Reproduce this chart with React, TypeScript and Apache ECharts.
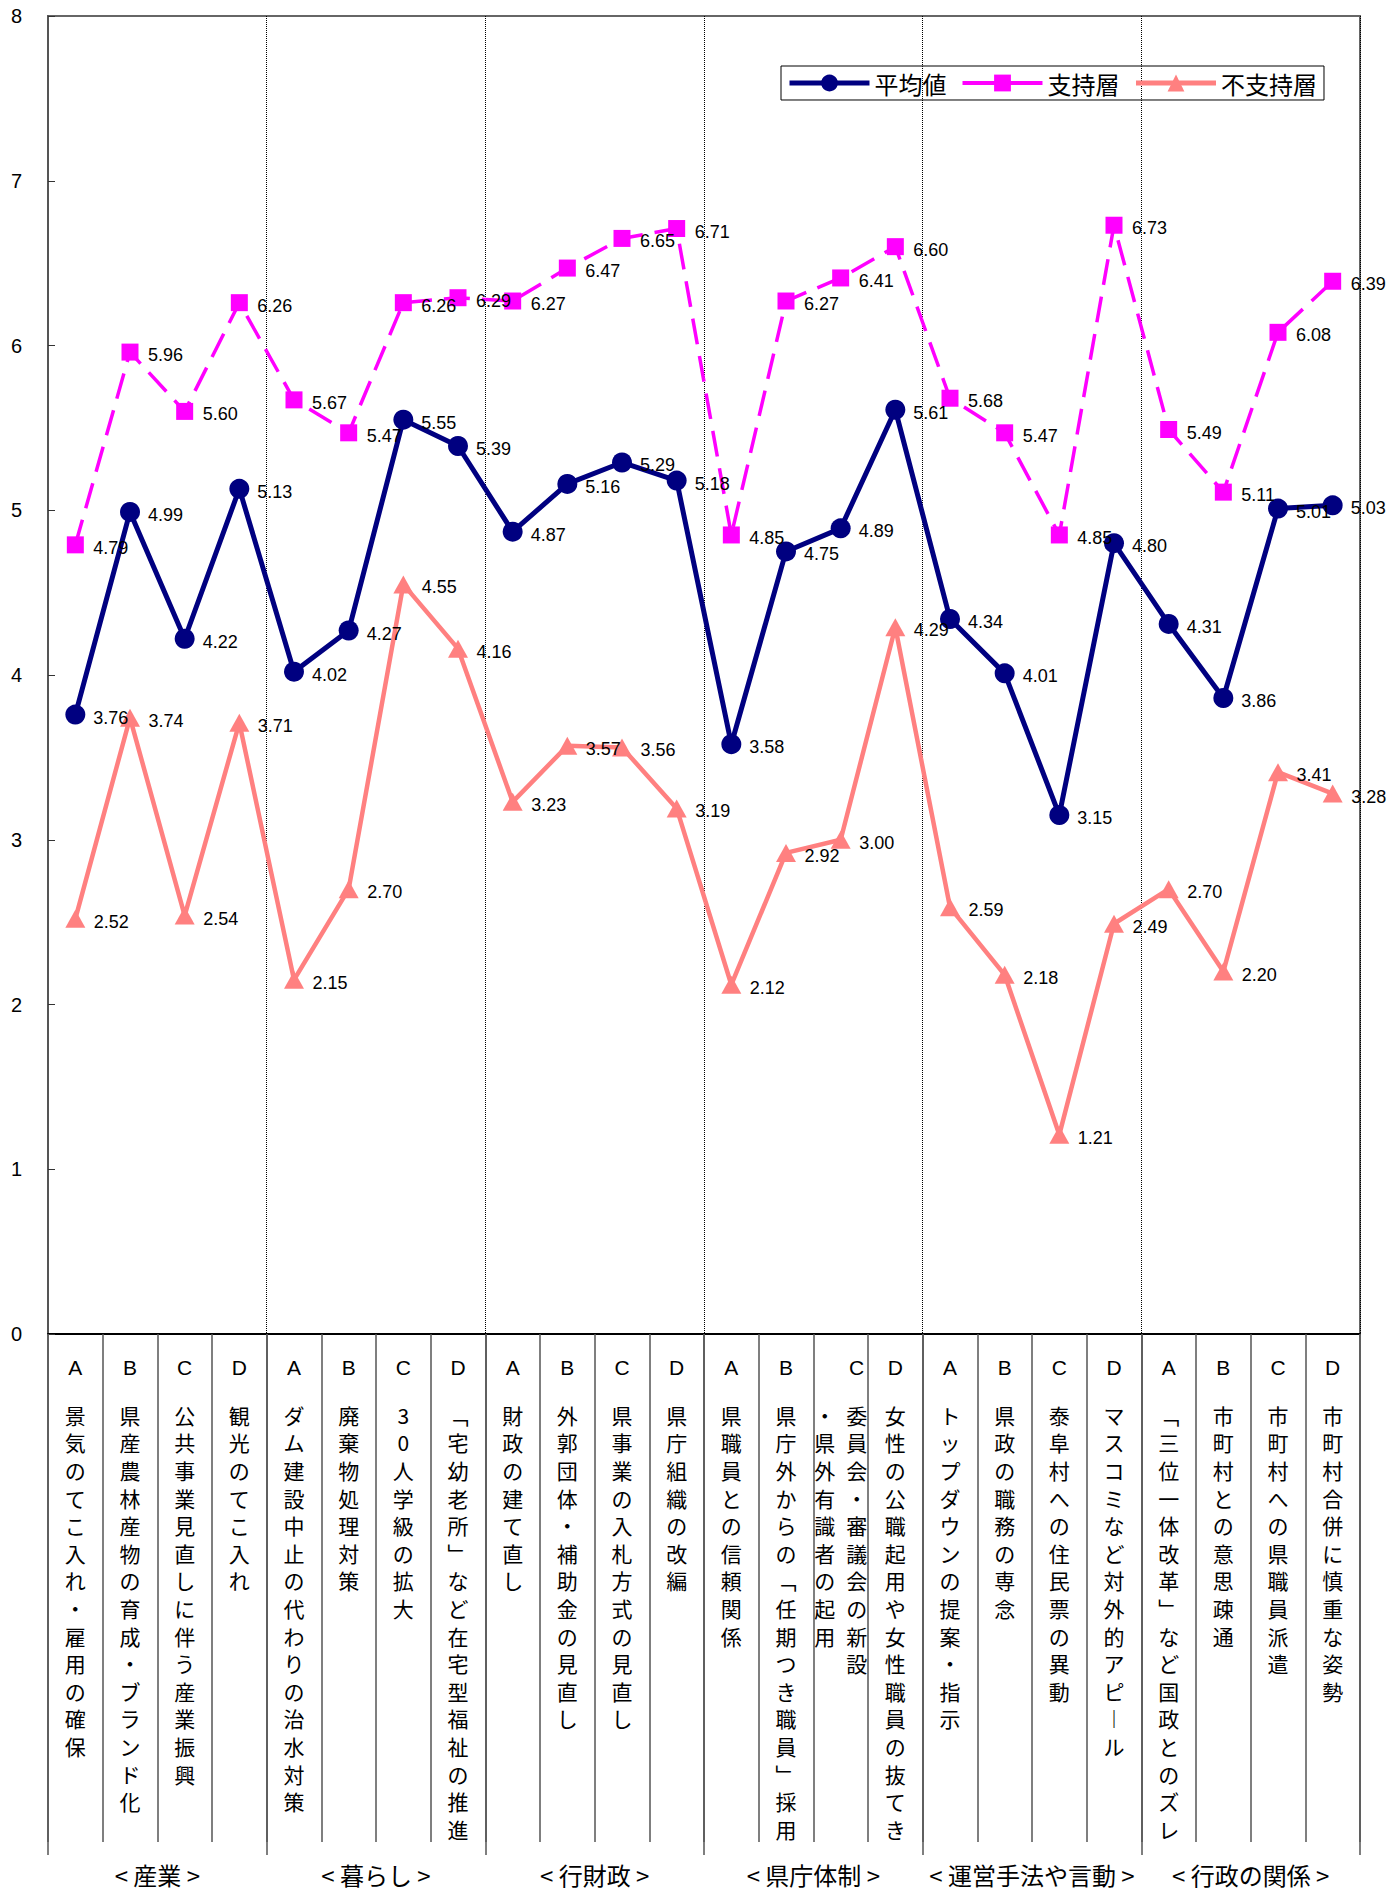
import React, { useEffect, useRef } from "react";
import * as echarts from "echarts";

const groups = ["< 産業 >", "< 暮らし >", "< 行財政 >", "< 県庁体制 >", "< 運営手法や言動 >", "< 行政の関係 >"];

const letters = [
  "A", "B", "C", "D", "A", "B", "C", "D", "A", "B", "C", "D",
  "A", "B", "C", "D", "A", "B", "C", "D", "A", "B", "C", "D",
];

const items = [
  "景気のてこ入れ・雇用の確保",
  "県産農林産物の育成・ブランド化",
  "公共事業見直しに伴う産業振興",
  "観光のてこ入れ",
  "ダム建設中止の代わりの治水対策",
  "廃棄物処理対策",
  "30人学級の拡大",
  "「宅幼老所」など在宅型福祉の推進",
  "財政の建て直し",
  "外郭団体・補助金の見直し",
  "県事業の入札方式の見直し",
  "県庁組織の改編",
  "県職員との信頼関係",
  "県庁外からの「任期つき職員」採用",
  "委員会・審議会の新設\n・県外有識者の起用",
  "女性の公職起用や女性職員の抜てき",
  "トップダウンの提案・指示",
  "県政の職務の専念",
  "泰阜村への住民票の異動",
  "マスコミなど対外的アピール",
  "「三位一体改革」など国政とのズレ",
  "市町村との意思疎通",
  "市町村への県職員派遣",
  "市町村合併に慎重な姿勢",
];

const average = [
  3.76, 4.99, 4.22, 5.13, 4.02, 4.27, 5.55, 5.39, 4.87, 5.16, 5.29, 5.18,
  3.58, 4.75, 4.89, 5.61, 4.34, 4.01, 3.15, 4.8, 4.31, 3.86, 5.01, 5.03,
];
const supporters = [
  4.79, 5.96, 5.6, 6.26, 5.67, 5.47, 6.26, 6.29, 6.27, 6.47, 6.65, 6.71,
  4.85, 6.27, 6.41, 6.6, 5.68, 5.47, 4.85, 6.73, 5.49, 5.11, 6.08, 6.39,
];
const nonSupporters = [
  2.52, 3.74, 2.54, 3.71, 2.15, 2.7, 4.55, 4.16, 3.23, 3.57, 3.56, 3.19,
  2.12, 2.92, 3.0, 4.29, 2.59, 2.18, 1.21, 2.49, 2.7, 2.2, 3.41, 3.28,
];

const seriesNames = ["平均値", "支持層", "不支持層"];
const seriesColors = ["#000080", "#FF00FF", "#FF8080"];
const yMin = 0;
const yMax = 8;
const yInterval = 1;

const VERT: Record<string, string> = { "「": "﹁", "」": "﹂", "ー": "︱" };
const LATIN = "'Liberation Sans', Arial, sans-serif";
const CJK = "'Noto Sans CJK JP', 'Noto Sans', sans-serif";

function buildLabel(idx: number): string {
  const letter = letters[idx];
  const cols = items[idx].split("\n").map((s) => Array.from(s).map((c) => VERT[c] ?? c));
  const lines: string[] = [];
  if (cols.length === 1) {
    lines.push(`{l|${letter}}`);
    lines.push(`{g| }`);
    cols[0].forEach((c) => lines.push(`{t|${c}}`));
  } else {
    const n = Math.max(...cols.map((c) => c.length));
    lines.push(`{e|　}{lc|${letter}}`);
    lines.push(`{g| }`);
    for (let i = 0; i < n; i++) {
      const left = cols[1][i] ?? "　";
      const right = cols[0][i] ?? "　";
      lines.push(`{c|${left}}{c|${right}}`);
    }
  }
  return lines.join("\n");
}

export default function App() {
  const ref = useRef<HTMLDivElement>(null);

  useEffect(() => {
    if (!ref.current) return;
    const chart = echarts.init(ref.current, undefined, { renderer: "svg" });

    const labelStyle = (distance: number) => ({
      show: true,
      position: "right" as const,
      distance,
      offset: [0, 3],
      fontSize: 18,
      fontFamily: LATIN,
      color: "#000",
      formatter: (p: any) => Number(p.value).toFixed(2),
    });

    chart.setOption({
      animation: false,
      backgroundColor: "#fff",
      textStyle: { fontFamily: LATIN },
      grid: {
        left: 48,
        right: 28,
        top: 16,
        bottom: 560,
        show: true,
        borderColor: "#666",
        borderWidth: 2,
        outerBoundsMode: "none",
        containLabel: false,
      },
      legend: {
        data: [
          { name: seriesNames[0], lineStyle: { width: 5, color: seriesColors[0] } },
          { name: seriesNames[1], lineStyle: { width: 4, color: seriesColors[1], type: "solid" } },
          { name: seriesNames[2], lineStyle: { width: 5, color: seriesColors[2] } },
        ],
        left: 781,
        top: 66,
        orient: "horizontal",
        itemWidth: 80,
        itemHeight: 21,
        itemGap: 14,
        padding: [5, 7, 5, 6],
        borderColor: "#000",
        borderWidth: 1,
        textStyle: { fontSize: 24, color: "#000", fontFamily: CJK },
      },
      xAxis: [
        {
          type: "category",
          data: items,
          boundaryGap: true,
          axisLine: { show: true, lineStyle: { color: "#000", width: 2 } },
          axisTick: {
            show: true,
            interval: 0,
            length: 508,
            lineStyle: { color: "#555", width: 1.5 },
          },
          splitLine: {
            show: true,
            interval: (i: number) => i > 0 && i % 4 === 0,
            lineStyle: { type: "dotted", color: "#000", width: 1 },
          },
          axisLabel: {
            interval: 0,
            margin: 19,
            color: "#000",
            formatter: (_v: string, idx: number) => buildLabel(idx),
            rich: {
              l: { fontSize: 21, fontFamily: LATIN, lineHeight: 28, align: "center", color: "#000" },
              lc: { fontSize: 21, fontFamily: LATIN, lineHeight: 28, align: "center", width: 32, color: "#000" },
              e: { fontSize: 21, fontFamily: CJK, lineHeight: 28, align: "center", width: 32 },
              g: { fontSize: 10, lineHeight: 20, align: "center" },
              t: { fontSize: 21, fontFamily: CJK, lineHeight: 27.6, align: "center", color: "#000" },
              c: { fontSize: 21, fontFamily: CJK, lineHeight: 27.6, align: "center", width: 32, color: "#000" },
            },
          },
        },
        {
          type: "category",
          data: groups,
          gridIndex: 0,
          position: "bottom",
          offset: 521,
          boundaryGap: true,
          axisLine: { show: false },
          axisTick: {
            show: true,
            inside: true,
            interval: 0,
            length: 521,
            lineStyle: { color: "#555", width: 1.5 },
          },
          splitLine: { show: false },
          axisLabel: {
            interval: 0,
            margin: 7,
            fontSize: 24,
            lineHeight: 24,
            fontFamily: CJK,
            color: "#000",
          },
        },
      ],
      yAxis: {
        type: "value",
        min: yMin,
        max: yMax,
        interval: yInterval,
        axisLine: { show: true, lineStyle: { color: "#555", width: 2 } },
        axisTick: { show: true, inside: true, length: 7, lineStyle: { color: "#333", width: 1 } },
        axisLabel: { fontSize: 20, fontFamily: LATIN, color: "#000", margin: 26 },
        splitLine: { show: false },
      },
      series: [
        {
          name: seriesNames[0],
          type: "line",
          data: average,
          symbol: "circle",
          symbolSize: 20,
          lineStyle: { color: seriesColors[0], width: 5 },
          itemStyle: { color: seriesColors[0] },
          label: labelStyle(8),
        },
        {
          name: seriesNames[1],
          type: "line",
          data: supporters,
          symbol: "rect",
          symbolSize: 17,
          lineStyle: { color: seriesColors[1], width: 3.5, type: [26, 12] },
          itemStyle: { color: seriesColors[1] },
          label: labelStyle(9.5),
        },
        {
          name: seriesNames[2],
          type: "line",
          data: nonSupporters,
          symbol: "triangle",
          symbolSize: [20, 18],
          lineStyle: { color: seriesColors[2], width: 4.5 },
          itemStyle: { color: seriesColors[2] },
          label: labelStyle(8.5),
        },
      ],
    });

    return () => chart.dispose();
  }, []);

  return (
    <div
      ref={ref}
      style={{ position: "absolute", left: 0, top: 0, width: 1388, height: 1894 }}
    />
  );
}
